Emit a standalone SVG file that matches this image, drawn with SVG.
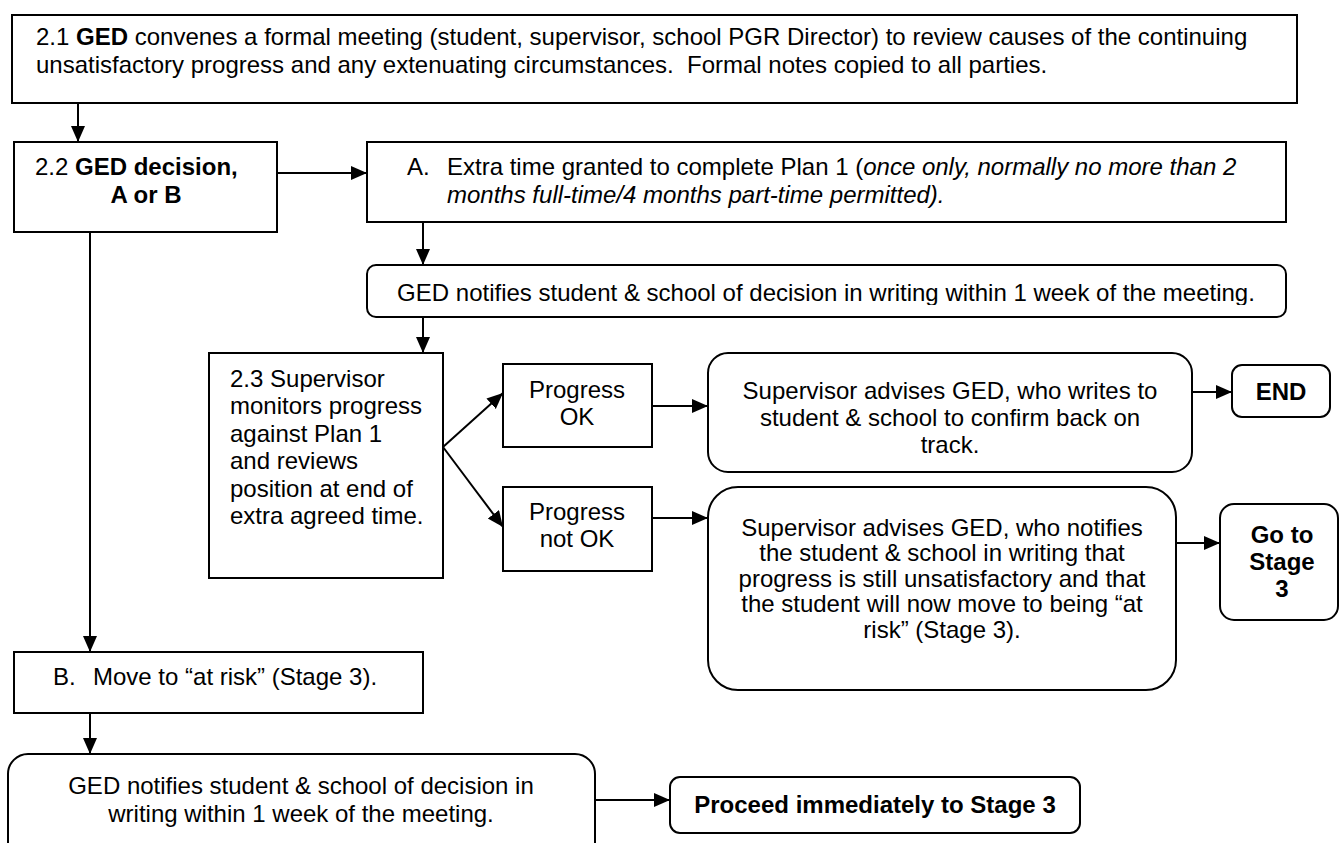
<svg xmlns="http://www.w3.org/2000/svg" width="1340" height="843" viewBox="0 0 1340 843">
<style>
.box{fill:#fff;stroke:#000;stroke-width:2}
.t{font-family:"Liberation Sans",Arial,sans-serif;font-size:24px;fill:#000}
.b{font-weight:bold}
.i{font-style:italic}
.c{text-anchor:middle}
.conn{stroke:#000;stroke-width:2;fill:none;marker-end:url(#ah)}
</style>
<defs>
<marker id="ah" markerUnits="userSpaceOnUse" markerWidth="17" markerHeight="15" refX="16" refY="7" orient="auto">
<path d="M0,0 L16,7 L0,14 z" fill="#000"/>
</marker>
<clipPath id="clipA"><rect x="367" y="265" width="919" height="40"/></clipPath>
</defs>
<rect width="1340" height="843" fill="#fff"/>
<g id="connectors">
<path class="conn" d="M78,103 V142"/>
<path class="conn" d="M277,173 H367"/>
<path class="conn" d="M423,222 V265"/>
<path class="conn" d="M423,317 V353"/>
<path class="conn" d="M443,447 L503,393"/>
<path class="conn" d="M443,447 L503,527"/>
<path class="conn" d="M652,406 H708"/>
<path class="conn" d="M1192,392 H1232"/>
<path class="conn" d="M652,518 H708"/>
<path class="conn" d="M1176,543 H1220"/>
<path class="conn" d="M90,232 V652"/>
<path class="conn" d="M90,713 V754"/>
<path class="conn" d="M595,800 H670"/>
</g>
<g id="n21">
<rect class="box" x="12" y="15" width="1285" height="88"/>
<text class="t" x="36" y="45">2.1 <tspan class="b">GED</tspan> convenes a formal meeting (student, supervisor, school PGR Director) to review causes of the continuing</text>
<text class="t" x="36" y="73">unsatisfactory progress and any extenuating circumstances.&#160; Formal notes copied to all parties.</text>
</g>
<g id="n22">
<rect class="box" x="14" y="142" width="263" height="90"/>
<text class="t" x="35" y="175">2.2 <tspan class="b">GED decision,</tspan></text>
<text class="t b c" x="146" y="203">A or B</text>
</g>
<g id="nA">
<rect class="box" x="367" y="142" width="919" height="80"/>
<text class="t" x="407" y="175">A.</text>
<text class="t" x="447" y="175">Extra time granted to complete Plan 1 (<tspan class="i">once only, normally no more than 2</tspan></text>
<text class="t i" x="447" y="203">months full-time/4 months part-time permitted).</text>
</g>
<g id="nNotifyA">
<rect class="box" x="367" y="265" width="919" height="52" rx="9"/>
<text class="t c" x="826" y="301" clip-path="url(#clipA)">GED notifies student &amp; school of decision in writing within 1 week of the meeting.</text>
</g>
<g id="n23">
<rect class="box" x="209" y="353" width="234" height="225"/>
<text class="t" x="230" y="387">2.3 Supervisor</text>
<text class="t" x="230" y="414">monitors progress</text>
<text class="t" x="230" y="442">against Plan 1</text>
<text class="t" x="230" y="469">and reviews</text>
<text class="t" x="230" y="497">position at end of</text>
<text class="t" x="230" y="524">extra agreed time.</text>
</g>
<g id="nOK">
<rect class="box" x="503" y="364" width="149" height="83"/>
<text class="t c" x="577" y="398">Progress</text>
<text class="t c" x="577" y="425">OK</text>
</g>
<g id="nNotOK">
<rect class="box" x="503" y="487" width="149" height="84"/>
<text class="t c" x="577" y="520">Progress</text>
<text class="t c" x="577" y="547">not OK</text>
</g>
<g id="nOKadv">
<rect class="box" x="708" y="353" width="484" height="119" rx="20"/>
<text class="t c" x="950" y="399">Supervisor advises GED, who writes to</text>
<text class="t c" x="950" y="426">student &amp; school to confirm back on</text>
<text class="t c" x="950" y="453">track.</text>
</g>
<g id="nEND">
<rect class="box" x="1232" y="365" width="98" height="52" rx="10"/>
<text class="t b c" x="1281" y="400">END</text>
</g>
<g id="nNotAdv">
<rect class="box" x="708" y="487" width="468" height="203" rx="30"/>
<text class="t c" x="942" y="536">Supervisor advises GED, who notifies</text>
<text class="t c" x="942" y="561">the student &amp; school in writing that</text>
<text class="t c" x="942" y="587">progress is still unsatisfactory and that</text>
<text class="t c" x="942" y="612">the student will now move to being “at</text>
<text class="t c" x="942" y="638">risk” (Stage 3).</text>
</g>
<g id="nGo">
<rect class="box" x="1220" y="504" width="118" height="116" rx="14"/>
<text class="t b c" x="1282" y="543">Go to</text>
<text class="t b c" x="1282" y="570">Stage</text>
<text class="t b c" x="1282" y="597">3</text>
</g>
<g id="nB">
<rect class="box" x="14" y="652" width="409" height="61"/>
<text class="t" x="53" y="685">B.</text>
<text class="t" x="93" y="685">Move to “at risk” (Stage 3).</text>
</g>
<g id="nNotifyB">
<rect class="box" x="8" y="754" width="587" height="112" rx="20"/>
<text class="t c" x="301" y="794">GED notifies student &amp; school of decision in</text>
<text class="t c" x="301" y="822">writing within 1 week of the meeting.</text>
</g>
<g id="nProceed">
<rect class="box" x="670" y="777" width="410" height="56" rx="10"/>
<text class="t b c" x="875" y="813">Proceed immediately to Stage 3</text>
</g>
</svg>
